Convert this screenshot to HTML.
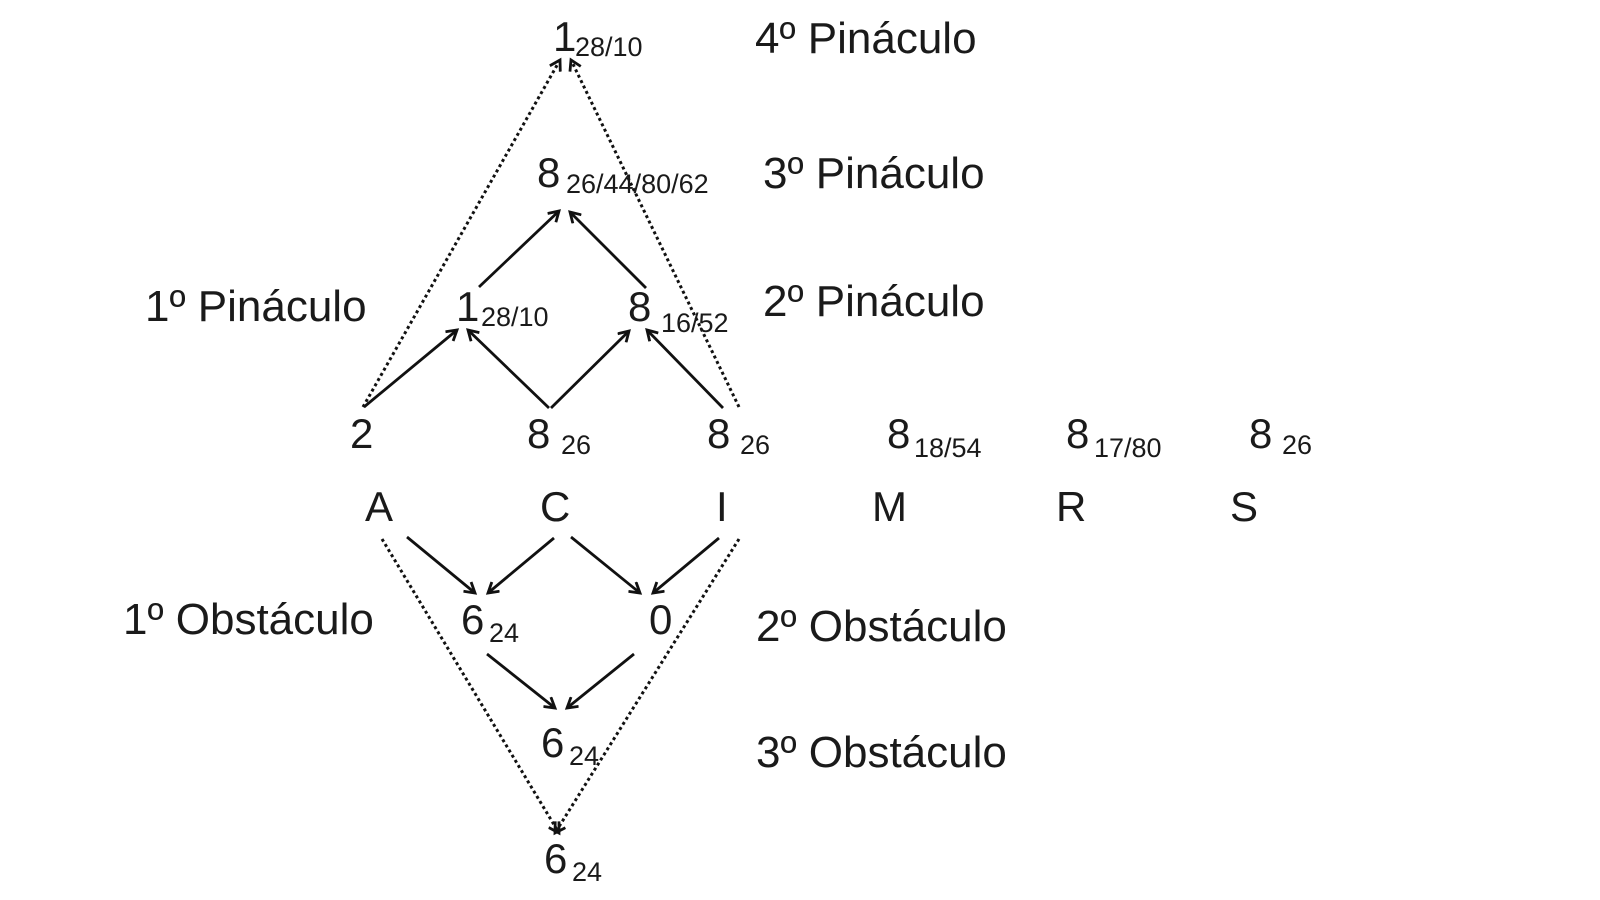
<!DOCTYPE html>
<html><head><meta charset="utf-8"><style>
html,body{margin:0;padding:0;background:#fff;}
svg{display:block;}
text{font-family:"Liberation Sans",sans-serif;fill:#1a1a1a;}
.b{font-size:44px;}
.s{font-size:27px;}
.n{font-size:42px;}
</style></head><body>
<svg width="1600" height="900" viewBox="0 0 1600 900" xmlns="http://www.w3.org/2000/svg">
<defs>
<marker id="a" markerWidth="14" markerHeight="14" refX="11" refY="7" orient="auto" markerUnits="userSpaceOnUse">
<polyline points="1,1 11,7 1,13" fill="none" stroke="#111" stroke-width="2.8"/>
</marker>
</defs>
<g stroke="#111" stroke-width="2.8" fill="none" marker-end="url(#a)">
<line x1="364" y1="407" x2="457" y2="330"/>
<line x1="549" y1="408" x2="468" y2="330"/>
<line x1="551" y1="408" x2="629" y2="331"/>
<line x1="723" y1="408" x2="647" y2="330"/>
<line x1="479" y1="287" x2="559" y2="211"/>
<line x1="646" y1="288" x2="570" y2="212"/>
<line x1="407" y1="537" x2="475" y2="593"/>
<line x1="554" y1="538" x2="488" y2="593"/>
<line x1="571" y1="537" x2="640" y2="593"/>
<line x1="719" y1="538" x2="653" y2="593"/>
<line x1="487" y1="654" x2="555" y2="708"/>
<line x1="634" y1="654" x2="567" y2="708"/>
</g>
<g stroke="#111" stroke-width="3" fill="none" stroke-dasharray="3 3" marker-end="url(#a)">
<line x1="363" y1="407" x2="560" y2="60"/>
<line x1="739" y1="407" x2="571" y2="60"/>
<line x1="382" y1="539" x2="559" y2="833"/>
<line x1="739" y1="539" x2="555" y2="833"/>
</g>

<text class="n" x="553" y="51">1<tspan class="s" x="575" y="56">28/10</tspan></text>
<text class="b" x="755" y="53">4º Pináculo</text>
<text class="n" x="537" y="187">8<tspan class="s" x="566" y="193">26/44/80/62</tspan></text>
<text class="b" x="763" y="188">3º Pináculo</text>
<text class="b" x="145" y="321">1º Pináculo</text>
<text class="n" x="456" y="321">1<tspan class="s" x="481" y="326">28/10</tspan></text>
<text class="n" x="628" y="321">8<tspan class="s" x="661" y="332">16/52</tspan></text>
<text class="b" x="763" y="316">2º Pináculo</text>

<text class="n" x="350" y="448">2</text>
<text class="n" x="527" y="448">8<tspan class="s" x="561" y="454">26</tspan></text>
<text class="n" x="707" y="448">8<tspan class="s" x="740" y="454">26</tspan></text>
<text class="n" x="887" y="448">8<tspan class="s" x="914" y="457">18/54</tspan></text>
<text class="n" x="1066" y="448">8<tspan class="s" x="1094" y="457">17/80</tspan></text>
<text class="n" x="1249" y="448">8<tspan class="s" x="1282" y="454">26</tspan></text>

<text class="n" x="365" y="521">A</text>
<text class="n" x="540" y="521">C</text>
<text class="n" x="716" y="521">I</text>
<text class="n" x="872" y="521">M</text>
<text class="n" x="1056" y="521">R</text>
<text class="n" x="1230" y="521">S</text>

<text class="b" x="123" y="634">1º Obstáculo</text>
<text class="n" x="461" y="634">6<tspan class="s" x="489" y="642">24</tspan></text>
<text class="n" x="649" y="634">0</text>
<text class="b" x="756" y="641">2º Obstáculo</text>
<text class="n" x="541" y="757">6<tspan class="s" x="569" y="765">24</tspan></text>
<text class="b" x="756" y="767">3º Obstáculo</text>
<text class="n" x="544" y="873">6<tspan class="s" x="572" y="881">24</tspan></text>
</svg>
</body></html>
